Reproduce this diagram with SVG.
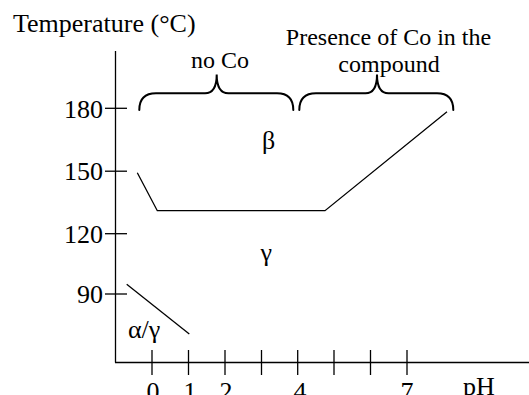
<svg xmlns="http://www.w3.org/2000/svg" width="529" height="395" viewBox="0 0 529 395">
<style>
text{font-family:"Liberation Serif","Times New Roman",serif;fill:#000}
.ax{stroke:#000;stroke-width:1.3;fill:none}
.tk{stroke:#000;stroke-width:1.3;fill:none}
.bd{stroke:#000;stroke-width:1.3;fill:none}
.br{stroke:#000;stroke-width:2;fill:none;stroke-linecap:round}
.t26{font-size:26px}
.t24{font-size:24px}
</style>
<rect width="529" height="395" fill="#fff"/>
<g id="axes">
<line class="ax" x1="115.5" y1="51" x2="115.5" y2="362.5"/>
<line class="ax" x1="115" y1="362.5" x2="529" y2="362.5"/>
</g>
<g id="y-ticks">
<line class="tk" x1="105" y1="108.3" x2="127" y2="108.3"/>
<line class="tk" x1="105" y1="171.2" x2="127" y2="171.2"/>
<line class="tk" x1="105" y1="233.7" x2="127" y2="233.7"/>
<line class="tk" x1="105" y1="294" x2="127" y2="294"/>
<text class="t26" x="103" y="117.5" text-anchor="end">180</text>
<text class="t26" x="103" y="179.5" text-anchor="end">150</text>
<text class="t26" x="103" y="242.5" text-anchor="end">120</text>
<text class="t26" x="103" y="303" text-anchor="end">90</text>
</g>
<g id="x-ticks">
<line class="tk" x1="152" y1="350" x2="152" y2="375"/>
<line class="tk" x1="188.5" y1="350" x2="188.5" y2="375"/>
<line class="tk" x1="225" y1="350" x2="225" y2="375"/>
<line class="tk" x1="261.5" y1="350" x2="261.5" y2="375"/>
<line class="tk" x1="297.7" y1="350" x2="297.7" y2="375"/>
<line class="tk" x1="334" y1="350" x2="334" y2="375"/>
<line class="tk" x1="370.5" y1="350" x2="370.5" y2="375"/>
<line class="tk" x1="407" y1="350" x2="407" y2="375"/>
<text class="t26" x="153" y="399.5" text-anchor="middle">0</text>
<text class="t26" x="190" y="399.5" text-anchor="middle">1</text>
<text class="t26" x="226" y="399.5" text-anchor="middle">2</text>
<text class="t26" x="300" y="399.5" text-anchor="middle">4</text>
<text class="t26" x="407" y="399.5" text-anchor="middle">7</text>
<text class="t26" x="463" y="394.5">pH</text>
</g>
<g id="axis-title">
<text class="t26" x="13" y="32">Temperature (°C)</text>
</g>
<g id="connectors">
<polyline class="bd" points="137.3,172.7 157.3,210.7 325,210.7 447,111.7"/>
<line class="bd" x1="126.7" y1="284.3" x2="189.3" y2="334"/>
</g>
<g id="brace-no-co">
<path class="br" d="M139.3,110 C139.3,99 145,93.3 156,93.3 L205,93.3 C212,93.3 216.7,88 216.7,74.5 C216.7,88 221.4,93.3 228.4,93.3 L277,93.3 C288,93.3 293.3,99 293.3,110"/>
<text class="t24" x="220" y="68" text-anchor="middle">no Co</text>
</g>
<g id="brace-co">
<path class="br" d="M299.3,110 C299.3,99 305,93.3 316,93.3 L365.5,93.3 C372.5,93.3 377,88 377,74.5 C377,88 381.5,93.3 388.5,93.3 L437,93.3 C448,93.3 453.3,99 453.3,110"/>
<text class="t24" x="388.5" y="45" text-anchor="middle">Presence of Co in the</text>
<text class="t24" x="389" y="72" text-anchor="middle">compound</text>
</g>
<g id="beta">
<text class="t26" x="262" y="148.5">β</text>
</g>
<g id="gamma">
<text class="t26" x="260.5" y="261">γ</text>
</g>
<g id="alpha-gamma">
<text class="t26" x="128" y="338">α/γ</text>
</g>
</svg>
